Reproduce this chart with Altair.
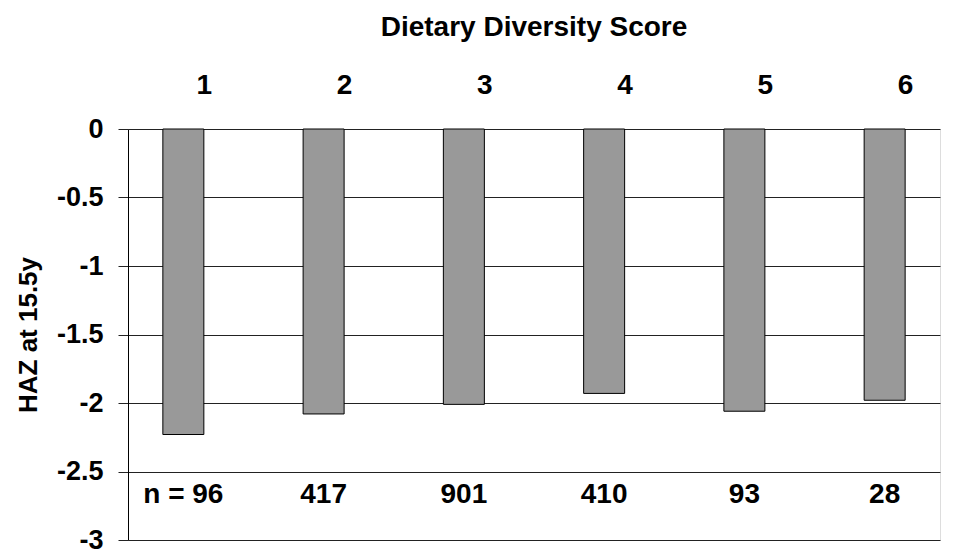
import altair as alt
import pandas as pd

scores = [1, 2, 3, 4, 5, 6]
haz = [-2.23, -2.08, -2.01, -1.93, -2.06, -1.98]
n_labels = ["n = 96", "417", "901", "410", "93", "28"]
n_label_y = [-2.67] * 6

df = pd.DataFrame({"score": scores, "haz": haz, "n": n_labels, "ny": n_label_y})

FONT = "Liberation Sans"
xscale = alt.Scale(domain=[0.641, 6.359], nice=False, zero=False)

base = alt.Chart(df)

bars = base.mark_bar(size=41, color="#999999", stroke="#000000", strokeWidth=1).encode(
    x=alt.X("score:Q", scale=xscale, axis=None),
    y=alt.Y(
        "haz:Q",
        scale=alt.Scale(domain=[-3, 0], nice=False),
        axis=alt.Axis(
            title="HAZ at 15.5y",
            values=[0, -0.5, -1, -1.5, -2, -2.5, -3],
            labelExpr="datum.value + ''",
            grid=True,
            gridColor="#222222",
            gridWidth=1,
            gridOpacity=1,
            domainColor="#000000",
            domainWidth=1,
            tickColor="#222222",
            tickSize=10,
            labelPadding=15,
            labelFont=FONT,
            labelFontSize=27,
            labelFontWeight="bold",
            labelColor="#000000",
            titleFont=FONT,
            titleFontSize=26,
            titleFontWeight="bold",
            titleColor="#000000",
            titlePadding=15,
        ),
    ),
)

top_labels = base.mark_text(
    font=FONT, fontSize=28, fontWeight="bold", color="#000000", dx=21, baseline="middle"
).encode(
    x=alt.X("score:Q", scale=xscale),
    y=alt.value(-43),
    text=alt.Text("score:Q"),
)

n_text = base.mark_text(
    font=FONT, fontSize=28, fontWeight="bold", color="#000000", baseline="middle"
).encode(
    x=alt.X("score:Q", scale=xscale),
    y=alt.Y("ny:Q"),
    text="n:N",
)

chart = (
    alt.layer(bars, top_labels, n_text)
    .properties(
        width=812,
        height=411,
        title=alt.TitleParams(
            "Dietary Diversity Score",
            font=FONT,
            fontSize=28,
            fontWeight="bold",
            color="#000000",
            anchor="middle",
            offset=30,
        ),
        autosize=alt.AutoSizeParams(type="none"),
        padding={"left": 120, "top": 121, "right": 14, "bottom": 14},
    )
    .configure_view(stroke=None)
    .configure(background="white")
)

chart.save("out.html", embed_options={"renderer": "svg", "actions": False})
